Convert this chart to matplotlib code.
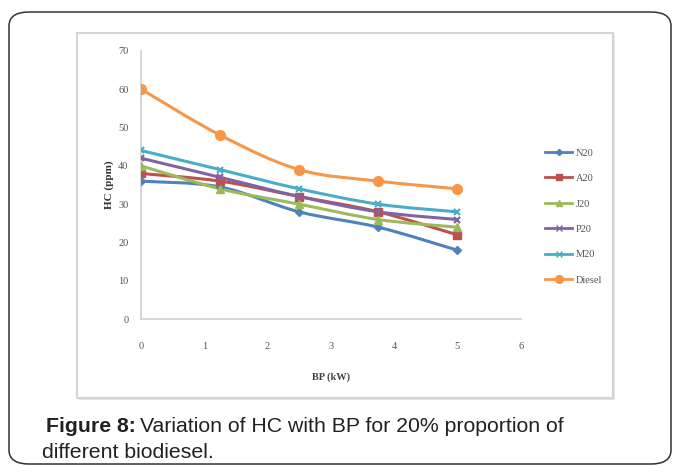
import numpy as np
import matplotlib.pyplot as plt
from matplotlib.patches import FancyBboxPatch, Rectangle, PathPatch
from matplotlib.path import Path
from matplotlib.lines import Line2D

# data
bp = [0, 1.25, 2.5, 3.75, 5]
n20 = [36, 34.5, 28, 24, 18]
a20 = [38, 36, 32, 28, 22]
j20 = [40, 34, 30, 26, 24]
p20 = [42, 37, 32, 28, 26]
m20 = [44, 39, 34, 30, 28]
diesel = [60, 48, 39, 36, 34]

names = ['N20', 'A20', 'J20', 'P20', 'M20', 'Diesel']
series = [n20, a20, j20, p20, m20, diesel]
colors = ['#4F81BD', '#C0504D', '#9BBB59', '#8064A2', '#4BACC6', '#F79646']
markers = ['D', 's', '^', 'x', 'x', 'o']
msizes = [4, 6, 6, 5, 5, 7]


def smooth_path(x, y):
    """excel-like smoothed line as cubic bezier through the points"""
    pts = np.column_stack([x, y]).astype(float)
    n = len(pts)
    verts = [pts[0]]
    codes = [Path.MOVETO]
    for i in range(n - 1):
        p0 = pts[i - 1] if i > 0 else pts[i]
        p1 = pts[i]
        p2 = pts[i + 1]
        p3 = pts[i + 2] if i + 2 < n else pts[i + 1]
        c1 = p1 + (p2 - p0) / 6
        c2 = p2 - (p3 - p1) / 6
        verts += [c1, c2, p2]
        codes += [Path.CURVE4] * 3
    return Path(verts, codes)


W, H = 673, 466
fig = plt.figure(figsize=(W / 100, H / 100), dpi=100)

# outer rounded frame of the page
frame = FancyBboxPatch((9 / W, 2 / H), 662 / W, 452 / H,
                       boxstyle='round,pad=0,rounding_size=0.03',
                       transform=fig.transFigure, fill=False,
                       edgecolor='#333333', linewidth=1.1, zorder=-3)
fig.patches.append(frame)

# chart area box with a soft shadow
shadow = Rectangle((79 / W, 66 / H), 536 / W, 365 / H, transform=fig.transFigure,
                   facecolor='#e6e6e6', edgecolor='none', zorder=-2)
box = Rectangle((77 / W, 68 / H), 536 / W, 365 / H, transform=fig.transFigure,
                facecolor='white', edgecolor='#d4d4d4', linewidth=1.5, zorder=-1)
fig.patches.extend([shadow, box])

ax = fig.add_axes([141 / W, 146.7 / H, 379.7 / W, 268.6 / H])
ax.patch.set_alpha(0)

for vals, c, m, ms in zip(series, colors, markers, msizes):
    ax.add_patch(PathPatch(smooth_path(bp, vals), facecolor='none',
                           edgecolor=c, linewidth=2.2, zorder=2))
    ax.plot(bp, vals, linestyle='none', marker=m, markersize=ms, color=c,
            markeredgewidth=1.6 if m == 'x' else 1, zorder=3)

ax.set_xlim(0, 6)
ax.set_ylim(0, 70)
ax.set_xticks(range(0, 7))
ax.set_yticks(range(0, 71, 10))
for s in ['top', 'right']:
    ax.spines[s].set_visible(False)
for s in ['left', 'bottom']:
    ax.spines[s].set_color('#d0d0d0')
    ax.spines[s].set_linewidth(1.2)
ax.tick_params(length=0, labelsize=7.5, labelcolor='#555555')
ax.tick_params(axis='y', pad=9)
ax.tick_params(axis='x', pad=16)
for lab in ax.get_xticklabels() + ax.get_yticklabels():
    lab.set_family('Liberation Serif')

ax.set_xlabel('BP (kW)', family='Liberation Serif', fontsize=7.5,
              fontweight='bold', color='#444444', labelpad=16)
ax.set_ylabel('HC (ppm)', family='Liberation Serif', fontsize=8,
              fontweight='bold', color='#333333', labelpad=3)

handles = [Line2D([], [], color=c, marker=m, markersize=ms * 0.8, linewidth=2)
           for c, m, ms in zip(colors, markers, msizes)]
fig.legend(handles, names, loc='upper left', bbox_to_anchor=(536 / W, 1 - 139 / H),
           frameon=False, prop={'family': 'Liberation Serif', 'size': 7.5},
           labelcolor='#555555', handlelength=2.6, handletextpad=0.3,
           labelspacing=1.55)

# caption, bold lead then plain text right after it
cap_font = dict(fontsize=15.3, family='Liberation Sans', color='#222222', va='center')
lead = fig.text(46 / W, 1 - 426 / H, 'Figure 8:', fontweight='bold', **cap_font)
fig.canvas.draw()
bb = lead.get_window_extent()
fig.text((bb.x1 + 4) / W, 1 - 426 / H, 'Variation of HC with BP for 20% proportion of',
         **cap_font)
fig.text(42 / W, 1 - 453 / H, 'different biodiesel.', **cap_font)

fig.savefig('out.png', dpi=100)
